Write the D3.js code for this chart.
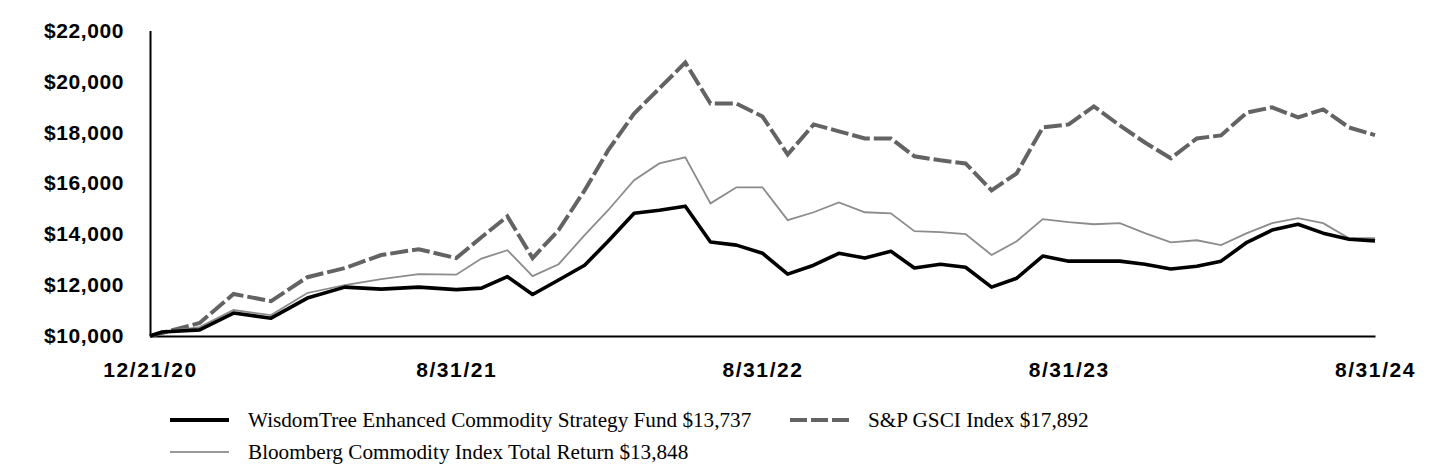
<!DOCTYPE html>
<html lang="en">
<head>
  <meta charset="UTF-8">
  <title>Growth of $10,000</title>
  <script src="https://d3js.org/d3.v7.min.js"></script>
  <style>
    body { margin: 0; background: #fff; }
    svg { display: block; }
    .ylab { font-family: "Liberation Sans", Arial, sans-serif; font-weight: bold; font-size: 21px; letter-spacing: 0.6px; }
    .xlab { font-family: "Liberation Sans", Arial, sans-serif; font-weight: bold; font-size: 21px; letter-spacing: 1.6px; }
    .legend { font-family: "Liberation Serif", "Times New Roman", serif; font-size: 21.2px; fill: #000; }
  </style>
</head>
<body>
  <div id="vis"></div>

  <script>
    // month-end dates (first point is inception)
    const dates = [
      "12/21/20", "12/31/20",
      "1/31/21", "2/28/21", "3/31/21", "4/30/21", "5/31/21", "6/30/21", "7/31/21", "8/31/21", "9/30/21", "10/31/21", "11/30/21", "12/31/21",
      "1/31/22", "2/28/22", "3/31/22", "4/30/22", "5/31/22", "6/30/22", "7/31/22", "8/31/22", "9/30/22", "10/31/22", "11/30/22", "12/31/22",
      "1/31/23", "2/28/23", "3/31/23", "4/30/23", "5/31/23", "6/30/23", "7/31/23", "8/31/23", "9/30/23", "10/31/23", "11/30/23", "12/31/23",
      "1/31/24", "2/29/24", "3/31/24", "4/30/24", "5/31/24", "6/30/24", "7/31/24", "8/31/24"
    ];

    const fund = [
      10000, 10160,
      10240, 10900, 10700, 11490, 11920, 11840, 11920, 11820, 11880, 12330, 11630, 12200,
      12780, 13720, 14820, 14940, 15100, 13690, 13570, 13250, 12430, 12780, 13250, 13060,
      13330, 12670, 12820, 12700, 11920, 12270, 13140, 12940, 12940, 12940, 12820, 12630,
      12740, 12940, 13680, 14160, 14390, 14040, 13800, 13737
    ];

    const bloomberg = [
      10000, 10150,
      10350, 11020, 10820, 11690, 12000, 12230, 12430, 12410, 13040, 13370, 12350, 12820,
      13960, 14940, 16120, 16780, 17020, 15210, 15840, 15840, 14550, 14860, 15250, 14860,
      14820, 14120, 14080, 14000, 13180, 13720, 14590, 14470, 14390, 14430, 14040, 13680,
      13760, 13570, 14040, 14430, 14630, 14430, 13840, 13848
    ];

    const gsci = [
      10000, 10120,
      10510, 11650, 11370, 12310, 12670, 13180, 13410, 13060, 13880, 14700, 13060, 14160,
      15720, 17290, 18740, 19720, 20740, 19130, 19130, 18620, 17130, 18310, 18040, 17760,
      17760, 17060, 16900, 16780, 15720, 16390, 18190, 18310, 19020, 18270, 17600, 16980,
      17760, 17880, 18780, 18980, 18590, 18900, 18190, 17892
    ];

    const xTickLabels = ["12/21/20", "8/31/21", "8/31/22", "8/31/23", "8/31/24"];
    const yTicks = [10000, 12000, 14000, 16000, 18000, 20000, 22000];

    const seriesNames = [
      "WisdomTree Enhanced Commodity Strategy Fund $13,737",
      "S&P GSCI Index $17,892",
      "Bloomberg Commodity Index Total Return $13,848"
    ];

    const W = 1440, H = 468;
    const plotLeft = 150, plotRight = 1375, plotTop = 30.5, plotBottom = 336;

    const svg = d3.select("#vis").append("svg")
      .attr("width", W)
      .attr("height", H);

    const parse = d3.timeParse("%m/%d/%y");
    const tickDates = xTickLabels.map(parse);

    // labelled dates sit evenly along the axis
    const x = d3.scaleTime()
      .domain(tickDates)
      .range(tickDates.map((d, i) => plotLeft + i * (plotRight - plotLeft) / (tickDates.length - 1)));

    const y = d3.scaleLinear()
      .domain([10000, 22000])
      .range([plotBottom, plotTop]);

    // y axis
    const yAxis = svg.append("g")
      .attr("transform", `translate(${plotLeft},0)`)
      .call(d3.axisLeft(y).tickValues(yTicks).tickSize(0).tickPadding(26).tickFormat(d => "$" + d3.format(",")(d)));
    yAxis.select(".domain").attr("stroke", "#000").attr("stroke-width", 2);
    yAxis.selectAll("text").attr("class", "ylab").attr("fill", "#000");

    // x axis
    const xAxis = svg.append("g")
      .attr("transform", `translate(0,${plotBottom})`)
      .call(d3.axisBottom(x).tickValues(tickDates).tickSize(0).tickPadding(26).tickFormat((d, i) => xTickLabels[i]));
    xAxis.select(".domain").attr("stroke", "#000").attr("stroke-width", 2);
    xAxis.selectAll("text").attr("class", "xlab").attr("fill", "#000");

    const pts = dates.map(parse);
    const line = d3.line()
      .x((d, i) => x(pts[i]))
      .y(d => y(d));

    svg.append("path")
      .datum(gsci)
      .attr("fill", "none")
      .attr("stroke", "#636363")
      .attr("stroke-width", 4)
      .attr("stroke-dasharray", "18,4")
      .attr("d", line);

    svg.append("path")
      .datum(bloomberg)
      .attr("fill", "none")
      .attr("stroke", "#8c8c8c")
      .attr("stroke-width", 1.8)
      .attr("d", line);

    svg.append("path")
      .datum(fund)
      .attr("fill", "none")
      .attr("stroke", "#000")
      .attr("stroke-width", 3.6)
      .attr("stroke-linejoin", "round")
      .attr("d", line);

    // legend
    const legendItems = [
      { name: seriesNames[0], x: 170, y: 420, stroke: "#000", width: 4, dash: null },
      { name: seriesNames[1], x: 790, y: 420, stroke: "#636363", width: 4, dash: "17,4" },
      { name: seriesNames[2], x: 170, y: 452, stroke: "#999", width: 2, dash: null }
    ];

    const lg = svg.append("g");
    legendItems.forEach(it => {
      lg.append("line")
        .attr("x1", it.x).attr("x2", it.x + 59)
        .attr("y1", it.y).attr("y2", it.y)
        .attr("stroke", it.stroke)
        .attr("stroke-width", it.width)
        .attr("stroke-dasharray", it.dash);
      lg.append("text")
        .attr("class", "legend")
        .attr("x", it.x + 78)
        .attr("y", it.y + 7)
        .text(it.name);
    });
  </script>
</body>
</html>
